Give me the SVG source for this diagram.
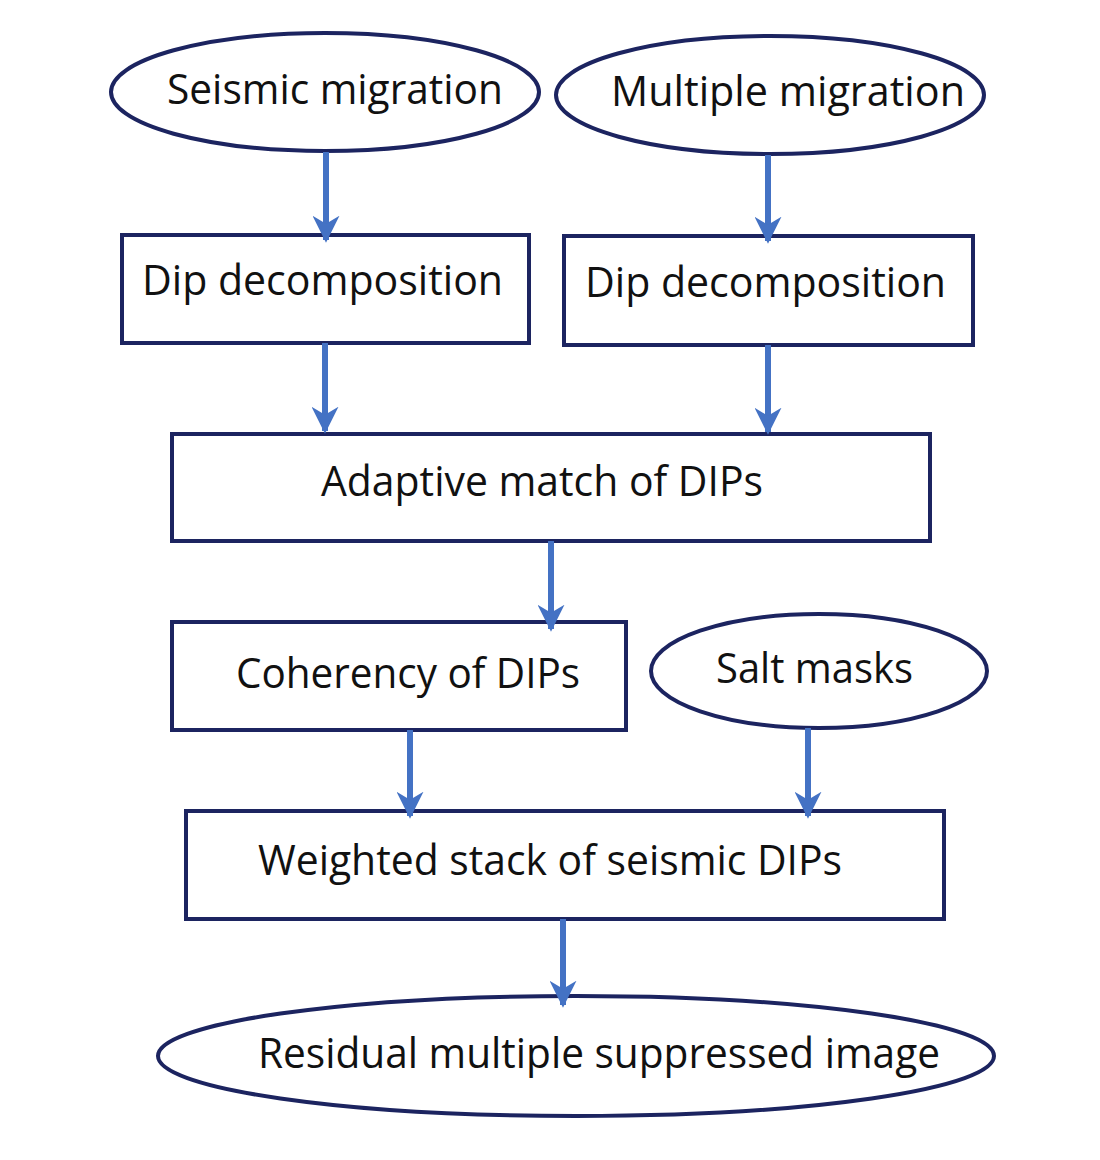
<svg xmlns="http://www.w3.org/2000/svg" width="1100" height="1160" viewBox="0 0 1100 1160">
<defs>
<style>
.n{fill:#fff;stroke:#1c2460;stroke-width:4}
.t{font-family:"Open Sans","Liberation Sans",sans-serif;font-size:42px;fill:#111}
.c{stroke:#4472c4;stroke-width:6;fill:none;marker-end:url(#ah)}
</style>
<marker id="ah" viewBox="0 0 10 10" refX="9" refY="5" markerWidth="4.5" markerHeight="4.5" orient="auto" markerUnits="strokeWidth">
<path d="M0,0 L10,5 L0,10 L3,5 Z" fill="#4472c4"/>
</marker>
</defs>
<rect width="1100" height="1160" fill="#fff"/>
<g id="n1"><ellipse class="n" cx="325" cy="92" rx="214" ry="59"/><text class="t" x="167" y="104" textLength="336" lengthAdjust="spacingAndGlyphs">Seismic migration</text></g>
<g id="n2"><ellipse class="n" cx="770" cy="95" rx="214" ry="59"/><text class="t" x="611" y="106" textLength="354" lengthAdjust="spacingAndGlyphs">Multiple migration</text></g>
<g id="n3"><rect class="n" x="122" y="235" width="407" height="108"/><text class="t" x="142" y="295" textLength="361" lengthAdjust="spacingAndGlyphs">Dip decomposition</text></g>
<g id="n4"><rect class="n" x="564" y="236" width="409" height="109"/><text class="t" x="585" y="297" textLength="361" lengthAdjust="spacingAndGlyphs">Dip decomposition</text></g>
<g id="n5"><rect class="n" x="172" y="434" width="758" height="107"/><text class="t" x="321" y="496" textLength="442" lengthAdjust="spacingAndGlyphs">Adaptive match of DIPs</text></g>
<g id="n6"><rect class="n" x="172" y="622" width="454" height="108"/><text class="t" x="236" y="688" textLength="344" lengthAdjust="spacingAndGlyphs">Coherency of DIPs</text></g>
<g id="n7"><ellipse class="n" cx="819" cy="671" rx="168" ry="57"/><text class="t" x="716" y="683" textLength="197" lengthAdjust="spacingAndGlyphs">Salt masks</text></g>
<g id="n8"><rect class="n" x="186" y="811" width="758" height="108"/><text class="t" x="258" y="875" textLength="584" lengthAdjust="spacingAndGlyphs">Weighted stack of seismic DIPs</text></g>
<g id="n9"><ellipse class="n" cx="576" cy="1056" rx="418" ry="60"/><text class="t" x="258" y="1068" textLength="682" lengthAdjust="spacingAndGlyphs">Residual multiple suppressed image</text></g>
<g id="connectors">
<line class="c" x1="326" y1="152" x2="326" y2="240"/>
<line class="c" x1="768" y1="155" x2="768" y2="241"/>
<line class="c" x1="325" y1="343" x2="325" y2="431"/>
<line class="c" x1="768" y1="345" x2="768" y2="432"/>
<line class="c" x1="551" y1="541" x2="551" y2="629"/>
<line class="c" x1="410" y1="730" x2="410" y2="816"/>
<line class="c" x1="808" y1="728" x2="808" y2="816"/>
<line class="c" x1="563" y1="919" x2="563" y2="1005"/>
</g>
</svg>
